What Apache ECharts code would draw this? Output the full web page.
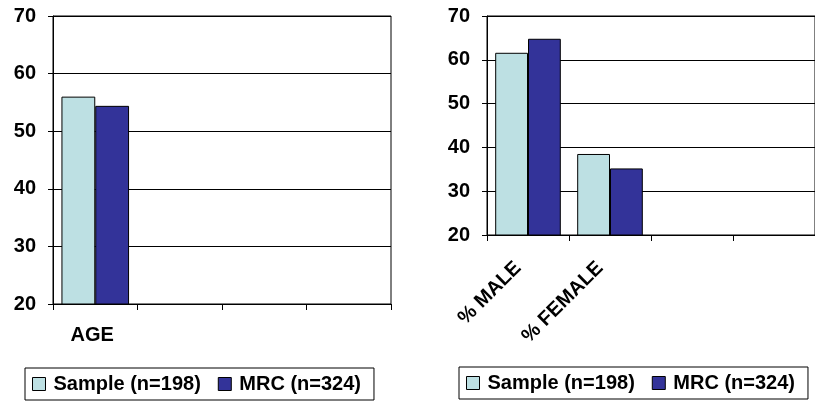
<!DOCTYPE html>
<html>
<head>
<meta charset="utf-8">
<script src="https://cdn.jsdelivr.net/npm/echarts@6/dist/echarts.min.js"></script>
<style>
html,body{margin:0;padding:0;background:#fff;}
#chart{width:815px;height:402px;}
</style>
</head>
<body>
<div id="chart"></div>
<script>
// Left panel: age
const ageCategories = ['AGE', '', '', ''];
const ageSample = [56.0, null, null, null];
const ageMRC = [54.4, null, null, null];

// Right panel: sex distribution
const sexCategories = ['% MALE', '% FEMALE', '', ''];
const sexSample = [61.6, 38.5, null, null];
const sexMRC = [64.8, 35.2, null, null];

const yTicks = { min: 20, max: 70, interval: 10 };
const seriesNames = ['Sample (n=198)', 'MRC (n=324)'];

const FONT = '"Liberation Sans", Arial, sans-serif';
const sampleColor = '#BDE0E3';
const mrcColor = '#333399';

const chart = echarts.init(document.getElementById('chart'), null, { renderer: 'canvas' });

function yAxis(gridIndex) {
  return {
    type: 'value', gridIndex,
    min: yTicks.min, max: yTicks.max, interval: yTicks.interval,
    axisLine: { show: true, lineStyle: { color: '#000', width: 1 } },
    axisTick: { show: true, length: 5, lineStyle: { color: '#000' } },
    splitLine: { show: true, lineStyle: { color: '#000', width: 1 } },
    axisLabel: { color: '#000', fontFamily: FONT, fontWeight: 'bold', fontSize: 20, margin: 17 }
  };
}

function xAxis(gridIndex, data, labelOpts) {
  return {
    type: 'category', gridIndex, data,
    axisLine: { show: true, lineStyle: { color: '#000', width: 1 } },
    axisTick: { show: true, length: 6, lineStyle: { color: '#000' } },
    splitLine: { show: false },
    axisLabel: Object.assign({ color: '#000', fontFamily: FONT, fontWeight: 'bold', fontSize: 20, interval: 0 }, labelOpts)
  };
}

function bar(name, data, idx, color) {
  return {
    name, type: 'bar', data, xAxisIndex: idx, yAxisIndex: idx,
    barGap: '0%', barCategoryGap: '20%',
    itemStyle: { color, borderColor: '#000', borderWidth: 1 },
    silent: true
  };
}

function legend(left, top) {
  return {
    data: seriesNames,
    left, top,
    orient: 'horizontal',
    borderColor: '#000', borderWidth: 1,
    padding: [6, 13, 6, 7],
    itemWidth: 13, itemHeight: 13, itemGap: 17,
    icon: 'rect',
    itemStyle: { borderColor: '#000', borderWidth: 1 },
    textStyle: { color: '#000', fontFamily: FONT, fontWeight: 'bold', fontSize: 20, padding: [0, 0, 0, 3] },
    selectedMode: false
  };
}

chart.setOption({
  animation: false,
  backgroundColor: '#fff',
  grid: [
    { left: 53, top: 16, width: 338, height: 288, show: true, borderColor: '#000', borderWidth: 1, containLabel: false },
    { left: 487, top: 16, width: 339, height: 219, show: true, borderColor: '#000', borderWidth: 1, containLabel: false }
  ],
  xAxis: [
    xAxis(0, ageCategories, { margin: 21, padding: [0, 6, 0, 0] }),
    xAxis(1, sexCategories, { margin: 20, rotate: 45, padding: [0, 14, 0, 0] })
  ],
  yAxis: [yAxis(0), yAxis(1)],
  legend: [legend(25, 368), legend(459, 367)],
  series: [
    bar(seriesNames[0], ageSample, 0, sampleColor),
    bar(seriesNames[1], ageMRC, 0, mrcColor),
    bar(seriesNames[0], sexSample, 1, sampleColor),
    bar(seriesNames[1], sexMRC, 1, mrcColor)
  ]
});
</script>
</body>
</html>
